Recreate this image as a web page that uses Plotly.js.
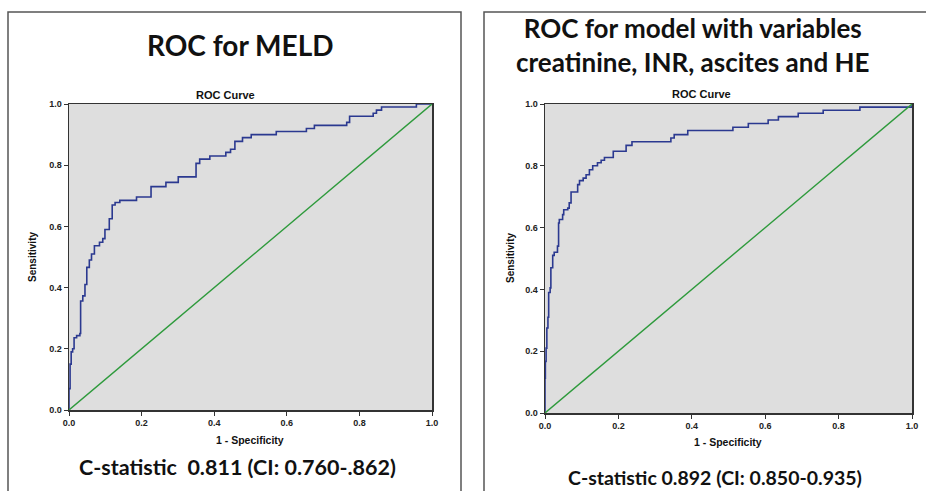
<!DOCTYPE html>
<html>
<head>
<meta charset="utf-8">
<script src="https://cdn.plot.ly/plotly-3.0.1.min.js"></script>
<style>html,body{margin:0;padding:0;background:#fff;}#chart{width:926px;height:491px;}</style>
</head>
<body>
<div id="chart"></div>
<script>
// ROC for MELD (1 - specificity at each rise, sensitivity after the rise)
const meldFpr = [0, 0, 0.003, 0.006, 0.01, 0.014, 0.021, 0.03, 0.032, 0.038, 0.044, 0.049, 0.056, 0.062, 0.07, 0.084, 0.093, 0.099, 0.111, 0.119, 0.127, 0.14, 0.186, 0.226, 0.267, 0.301, 0.35, 0.36, 0.388, 0.432, 0.445, 0.457, 0.478, 0.502, 0.571, 0.654, 0.676, 0.765, 0.773, 0.838, 0.847, 0.861, 0.957, 1.0];
const meldTpr = [0, 0.07, 0.15, 0.19, 0.20, 0.236, 0.243, 0.25, 0.356, 0.373, 0.41, 0.466, 0.49, 0.51, 0.537, 0.548, 0.56, 0.59, 0.625, 0.67, 0.678, 0.685, 0.696, 0.73, 0.744, 0.762, 0.806, 0.82, 0.83, 0.842, 0.852, 0.878, 0.89, 0.9, 0.91, 0.92, 0.93, 0.94, 0.96, 0.97, 0.98, 0.99, 1.0, 1.0];
// ROC for model with creatinine, INR, ascites and HE
const modelFpr = [0, 0, 0.001, 0.003, 0.005, 0.008, 0.01, 0.014, 0.016, 0.021, 0.025, 0.034, 0.037, 0.039, 0.048, 0.051, 0.062, 0.066, 0.071, 0.089, 0.094, 0.104, 0.112, 0.121, 0.13, 0.143, 0.153, 0.162, 0.186, 0.221, 0.237, 0.343, 0.352, 0.389, 0.512, 0.554, 0.608, 0.636, 0.69, 0.758, 0.858, 1.0];
const modelTpr = [0, 0.113, 0.167, 0.21, 0.275, 0.31, 0.39, 0.405, 0.47, 0.51, 0.52, 0.54, 0.615, 0.626, 0.642, 0.658, 0.663, 0.68, 0.715, 0.739, 0.752, 0.76, 0.771, 0.787, 0.8, 0.81, 0.818, 0.827, 0.847, 0.866, 0.878, 0.89, 0.901, 0.914, 0.925, 0.937, 0.948, 0.959, 0.97, 0.98, 0.99, 1.0];
// Reference line
const refX = [0, 1];
const refY = [0, 1];
const tickVals = [0, 0.2, 0.4, 0.6, 0.8, 1.0];
const tickText = ["0.0", "0.2", "0.4", "0.6", "0.8", "1.0"];

const W = 926, H = 491;
const px = x => x / W;
const py = y => 1 - y / H;

const curveColor = '#2b3990';
const refColor = '#2e9a3c';

const traces = [
  {x: meldFpr, y: meldTpr, xaxis: 'x', yaxis: 'y', mode: 'lines', line: {shape: 'hv', color: curveColor, width: 1.6}, cliponaxis: false},
  {x: refX, y: refY, xaxis: 'x', yaxis: 'y', mode: 'lines', line: {color: refColor, width: 1.4}, cliponaxis: false},
  {x: modelFpr, y: modelTpr, xaxis: 'x2', yaxis: 'y2', mode: 'lines', line: {shape: 'hv', color: curveColor, width: 1.6}, cliponaxis: false},
  {x: refX, y: refY, xaxis: 'x2', yaxis: 'y2', mode: 'lines', line: {color: refColor, width: 1.4}, cliponaxis: false}
];

const tickFont = {family: 'Arial, Liberation Sans, sans-serif', size: 9, color: '#222', weight: 'bold'};
function ax(domain, anchor) {
  return {
    domain: domain, anchor: anchor, range: [0, 1], tickvals: tickVals, ticktext: tickText,
    showgrid: false, zeroline: false, showline: true, mirror: true, linecolor: '#333', linewidth: 1.5,
    ticks: 'outside', ticklen: 4, tickcolor: '#333', tickwidth: 1, tickfont: tickFont, fixedrange: true
  };
}

const annFont = (size, fam) => ({family: fam || 'Arial, Liberation Sans, sans-serif', size: size, color: '#111', weight: 'bold'});
const titleFam = 'Lato, Open Sans, sans-serif';
function ann(text, x, y, size, fam, extra) {
  return Object.assign({text: text, x: px(x), y: py(y), xref: 'paper', yref: 'paper', showarrow: false, xanchor: 'center', yanchor: 'middle', font: annFont(size, fam)}, extra || {});
}

const layout = {
  width: W, height: H, margin: {l: 0, r: 0, t: 0, b: 0},
  paper_bgcolor: '#ffffff', plot_bgcolor: '#dedede', showlegend: false,
  xaxis: ax([px(69), px(432)], 'y'),
  yaxis: ax([py(410), py(104)], 'x'),
  xaxis2: ax([px(545), px(912)], 'y2'),
  yaxis2: ax([py(413), py(104)], 'x2'),
  shapes: [
    {type: 'rect', xref: 'paper', yref: 'paper', x0: px(8), x1: px(461), y0: py(495), y1: py(12), line: {color: '#555', width: 1.5}},
    {type: 'rect', xref: 'paper', yref: 'paper', x0: px(484), x1: px(935), y0: py(495), y1: py(12), line: {color: '#555', width: 1.5}}
  ],
  annotations: [
    ann('ROC for MELD', 240, 45, 28, titleFam),
    ann('ROC for model with variables<br>creatinine, INR, ascites and HE', 692, 45, 26, titleFam),
    ann('ROC Curve', 225, 95, 11),
    ann('ROC Curve', 701, 94, 11),
    ann('1 - Specificity', 250, 440, 10.5),
    ann('1 - Specificity', 728, 442, 10.5),
    ann('Sensitivity', 32, 257, 10, null, {textangle: -90}),
    ann('Sensitivity', 510, 258, 10, null, {textangle: -90}),
    ann('C-statistic  0.811 (CI: 0.760-.862)', 237, 467, 21.5, titleFam),
    ann('C-statistic 0.892 (CI: 0.850-0.935)', 715, 477, 19.5, titleFam)
  ]
};

Plotly.newPlot('chart', traces, layout, {displayModeBar: false, staticPlot: true});
</script>
</body>
</html>
